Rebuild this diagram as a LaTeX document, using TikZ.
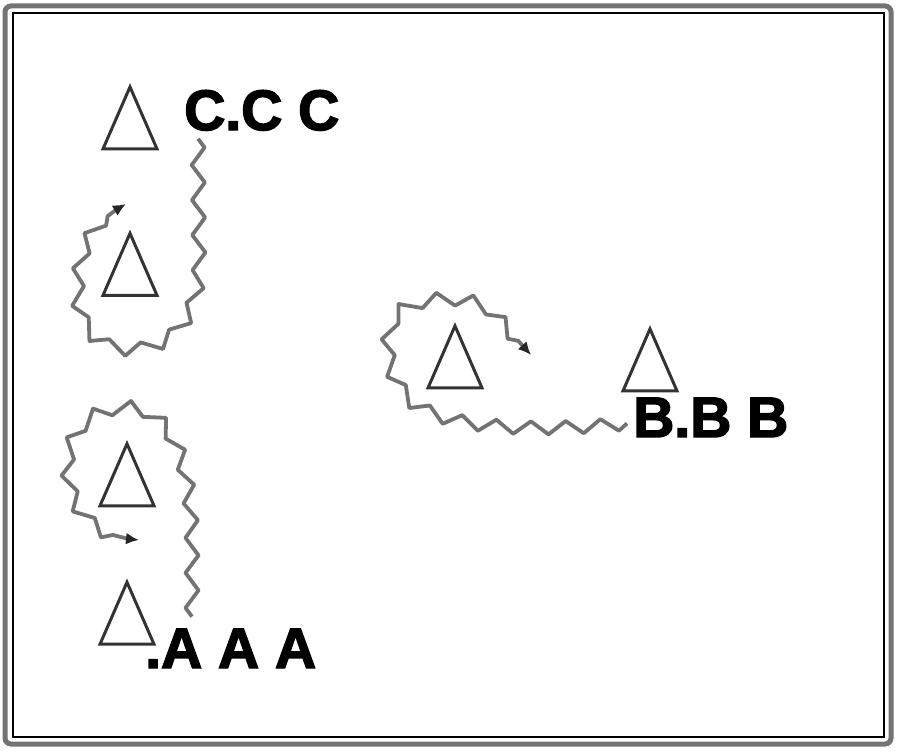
\documentclass[tikz,border=0pt]{standalone}
\usepackage{fontspec}
\newfontfamily\markfont{Liberation Sans}[BoldFeatures={FakeBold=2.6}]
\usepackage{tikz}
\usetikzlibrary{positioning,calc,arrows.meta,shapes.geometric,decorations.pathmorphing}
\tikzstyle{tri} = [draw=black!80, line width=3pt, isosceles triangle, shape border rotate=90, isosceles triangle stretches, minimum width=54pt, minimum height=62pt, inner sep=0pt]
\tikzstyle{wave} = [draw=black!55, line width=3.8pt, line join=round, decorate, decoration={zigzag, segment length=35pt, amplitude=6.5pt, post length=11pt}, -{Latex[length=13pt,width=12pt,black!85]}]
\tikzstyle{lettering} = [inner sep=0pt, anchor=base west, font=\markfont\bfseries\fontsize{57}{61}\selectfont]

\begin{document}
\begin{tikzpicture}[x=1pt,y=-1pt,node distance=79pt]
\useasboundingbox (0,0) rectangle (900,752);
\draw[black!55, line width=5pt, rounded corners=6pt] (5,6) rectangle (891,744);
\draw[line width=1.6pt] (13,13) rectangle (884,737);

\node[tri, anchor=apex] (c1) at (130,83) {};
\node[tri, below=of c1] (c2) {};
\node[tri, below=143pt of c2, xshift=-3pt] (a1) {};
\node[tri, below=71pt of a1] (a2) {};
\node[tri, anchor=apex] (b1) at (455,322) {};
\node[tri, anchor=apex] (b2) at (650,325) {};

\node[lettering] (ccc) at (184,130) {C.C C};
\node[lettering] (aaa) at (145,668) {.A A A};
\node[lettering] (bbb) at (633,437) {B.B B};

\coordinate (c-tip) at (126,204);
\coordinate (a-tip) at (139,540);
\coordinate (b-tip) at (531,355);

\draw[wave] ([xshift=14pt,yshift=-8pt]ccc.south west) -- (199,262)
  .. controls (199,320) and (170,350) .. (128,349)
  .. controls (90,348) and (76,315) .. (78,285)
  .. controls (80,245) and (95,220) .. (c-tip);
\draw[wave] ([xshift=47pt,yshift=12pt]aaa.north west) -- (192,545)
  .. controls (192,470) and (175,410) .. (128,408)
  .. controls (85,407) and (66,440) .. (68,470)
  .. controls (70,515) and (100,538) .. (a-tip);
\draw[wave] ([xshift=-6pt,yshift=-6pt]bbb.west)
  .. controls (560,430) and (470,432) .. (425,410)
  .. controls (390,392) and (380,345) .. (395,318)
  .. controls (410,295) and (475,292) .. (495,315) -- (b-tip);
\end{tikzpicture}
\end{document}
